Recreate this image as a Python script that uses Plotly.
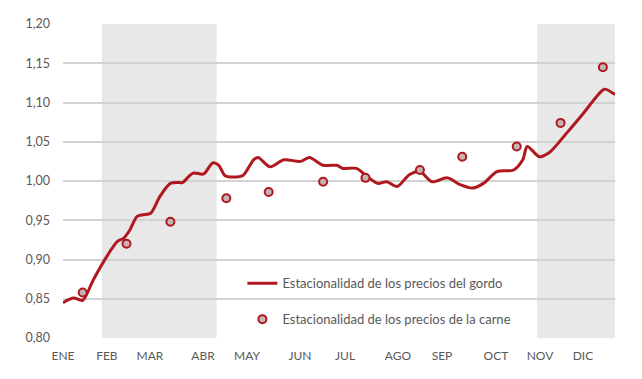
import plotly.graph_objects as go

# Position along the year (day-like units, 0..365)
gordo_x = [0, 7, 13, 20, 29, 36, 40, 44, 49, 53, 58, 64, 71, 77, 79, 86, 93, 99, 103,
           107, 112, 119, 126, 129, 137, 146, 157, 163, 172, 181, 185, 194, 201, 208,
           214, 221, 229, 236, 244, 254, 263, 271, 278, 287, 298, 304, 307, 315, 322,
           333, 344, 353, 358, 365]
gordo_y = [0.845, 0.851, 0.848, 0.874, 0.904, 0.923, 0.927, 0.937, 0.955, 0.957, 0.959,
           0.980, 0.997, 0.998, 0.998, 1.010, 1.009, 1.023, 1.020, 1.007, 1.005, 1.007,
           1.027, 1.030, 1.018, 1.027, 1.025, 1.030, 1.020, 1.020, 1.016, 1.016, 1.006,
           0.997, 0.999, 0.993, 1.008, 1.012, 0.999, 1.004, 0.995, 0.991, 0.997, 1.012,
           1.014, 1.027, 1.044, 1.031, 1.037, 1.061, 1.086, 1.108, 1.117, 1.110]

carne_x = [13, 42, 71, 108, 136, 172, 200, 236, 264, 300, 329, 357]
carne_y = [0.858, 0.920, 0.948, 0.978, 0.986, 0.999, 1.004, 1.014, 1.031, 1.044, 1.074, 1.145]

month_pos = [0, 29, 57.5, 92.6, 121.7, 156.7, 186.5, 221.5, 250.6, 286.3, 315.4, 343.8]
month_labels = ["ENE", "FEB", "MAR", "ABR", "MAY", "JUN", "JUL", "AGO", "SEP", "OCT", "NOV", "DIC"]

shade_periods = [(25.6, 101.6), (313.4, 365)]

y_ticks = [0.80, 0.85, 0.90, 0.95, 1.00, 1.05, 1.10, 1.15, 1.20]

RED = "#b01820"
FONT = "Lato"

fig = go.Figure()

for x0, x1 in shade_periods:
    fig.add_shape(type="rect", xref="x", yref="y", x0=x0, x1=x1, y0=0.795, y1=1.2035,
                  fillcolor="#e8e8e8", line_width=0, layer="below")

fig.add_trace(go.Scatter(
    x=gordo_x, y=gordo_y, mode="lines",
    line=dict(color=RED, width=3, shape="spline", smoothing=0.8),
    name="Estacionalidad de los precios del gordo", legendgroup="a",
))
fig.add_trace(go.Scatter(
    x=carne_x, y=carne_y, mode="markers",
    marker=dict(symbol="circle", size=8, color="#c4b4b4", line=dict(color=RED, width=2)),
    name="Estacionalidad de los precios de la carne", legendgroup="b",
))

fig.update_layout(
    width=642, height=379,
    margin=dict(l=63, r=27, t=24, b=41),
    paper_bgcolor="white", plot_bgcolor="white",
    separators=",.",
    font=dict(family=FONT, size=12, color="#595959"),
    showlegend=True,
    legend=dict(x=0.325, y=0.222, xanchor="left", yanchor="top",
                bgcolor="rgba(0,0,0,0)", font=dict(family=FONT, size=13, color="#595959"),
                tracegroupgap=16),
    xaxis=dict(range=[0, 365], tickmode="array", tickvals=month_pos, ticktext=month_labels,
               showgrid=False, zeroline=False, showline=False, ticks="",
               ticklabelstandoff=9,
               tickfont=dict(family=FONT, size=12, color="#595959")),
    yaxis=dict(range=[0.80, 1.20], tickmode="array", tickvals=y_ticks, tickformat=".2f",
               showgrid=True, gridcolor="#d2d2d2", gridwidth=1.5, zeroline=False,
               showline=False, ticks="", ticklabelstandoff=12,
               tickfont=dict(family=FONT, size=12.5, color="#595959")),
)

fig.write_html("out.html")
